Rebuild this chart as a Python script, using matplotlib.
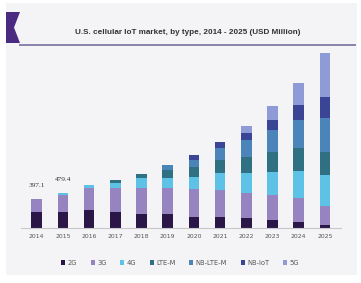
import matplotlib
matplotlib.use("Agg")
import matplotlib.pyplot as plt
from matplotlib.patches import Rectangle, Polygon
from matplotlib.lines import Line2D
import numpy as np

years = ["2014", "2015", "2016", "2017", "2018", "2019", "2020",
         "2021", "2022", "2023", "2024", "2025"]
series_names = ["2G", "3G", "4G", "LTE-M", "NB-LTE-M", "NB-IoT", "5G"]
v_2g = [223, 222, 246, 222, 191, 191, 154, 154, 132, 109, 86, 41]
v_3g = [174, 226, 300, 320, 359, 351, 373, 364, 341, 337, 319, 259]
v_4g = [0, 31, 41, 68, 128, 137, 164, 228, 281, 318, 373, 423]
v_ltem = [0, 0, 0, 45, 59, 109, 137, 182, 218, 273, 310, 318]
v_nbltem = [0, 0, 0, 0, 0, 68, 96, 160, 228, 306, 386, 456]
v_nbiot = [0, 0, 0, 0, 0, 0, 68, 90, 100, 137, 205, 295]
v_5g = [0, 0, 0, 0, 0, 0, 0, 0, 91, 182, 304, 601]
labels_vals = {0: "397.1", 1: "479.4"}

colors = ["#2a1748", "#9584c0", "#5ec1e6", "#2f7182", "#4a84b9", "#3b4596", "#8f9bd6"]

W, H = 361, 283
fig = plt.figure(figsize=(W / 100, H / 100), dpi=100)
fig.patch.set_facecolor("white")

def fx(px):
    return px / W

def fy(py):
    return 1 - py / H

# panel background
fig.patches.append(Rectangle((fx(6), fy(275)), fx(351), (272) / H,
                             transform=fig.transFigure, facecolor="#f4f4f6",
                             edgecolor="none", zorder=-2))
# purple badge
badge = [(6, 12), (20, 12), (14, 27.5), (20, 43), (6, 43)]
fig.patches.append(Polygon([(fx(x), fy(y)) for x, y in badge], closed=True,
                           transform=fig.transFigure, facecolor="#4b2a82",
                           edgecolor="none", zorder=-1))
# title underline
fig.lines.append(Line2D([fx(20), fx(355)], [fy(44.5), fy(44.5)],
                        transform=fig.transFigure, color="#8a82aa", lw=1.4, zorder=-1))
fig.text(fx(188), fy(33), "U.S. cellular IoT market, by type, 2014 - 2025 (USD Million)",
         ha="center", va="center", fontsize=5.9, color="#333333",
         family="Liberation Sans", fontweight="bold")

ax = fig.add_axes([21 / W, 55 / H, 319.6 / W, 180 / H])
ax.set_zorder(3)
ax.set_facecolor("none")
x = np.arange(len(years))
data = [v_2g, v_3g, v_4g, v_ltem, v_nbltem, v_nbiot, v_5g]
bottom = np.zeros(len(years))
handles = []
for name, vals, c in zip(series_names, data, colors):
    vals = np.array(vals, dtype=float)
    b = ax.bar(x, vals, width=0.4, bottom=bottom, color=c, label=name, zorder=2)
    bottom += vals
    handles.append(b)

for i, txt in labels_vals.items():
    ax.text(x[i], bottom[i] + 150, txt, ha="center", va="bottom", fontsize=5.2,
            family="Liberation Serif", color="#333333")

ax.set_xlim(-0.6, 11.6)
ax.set_ylim(0, 2457)
ax.set_yticks([])
ax.set_xticks(x)
ax.set_xticklabels(years, fontsize=4.4, color="#555555")
ax.tick_params(axis="x", length=0, pad=4)
for s in ["top", "right", "left"]:
    ax.spines[s].set_visible(False)
ax.spines["bottom"].set_color("#c8c8cc")
ax.spines["bottom"].set_linewidth(0.8)

leg = fig.legend(handles, series_names, loc="center", bbox_to_anchor=(fx(180), fy(263)),
                 ncol=7, frameon=False, fontsize=4.9, handlelength=0.6, handleheight=0.6,
                 handletextpad=0.35, columnspacing=2.0, labelcolor="#555555")
leg.set_zorder(4)

fig.savefig("out.png", dpi=100, facecolor=fig.get_facecolor())
